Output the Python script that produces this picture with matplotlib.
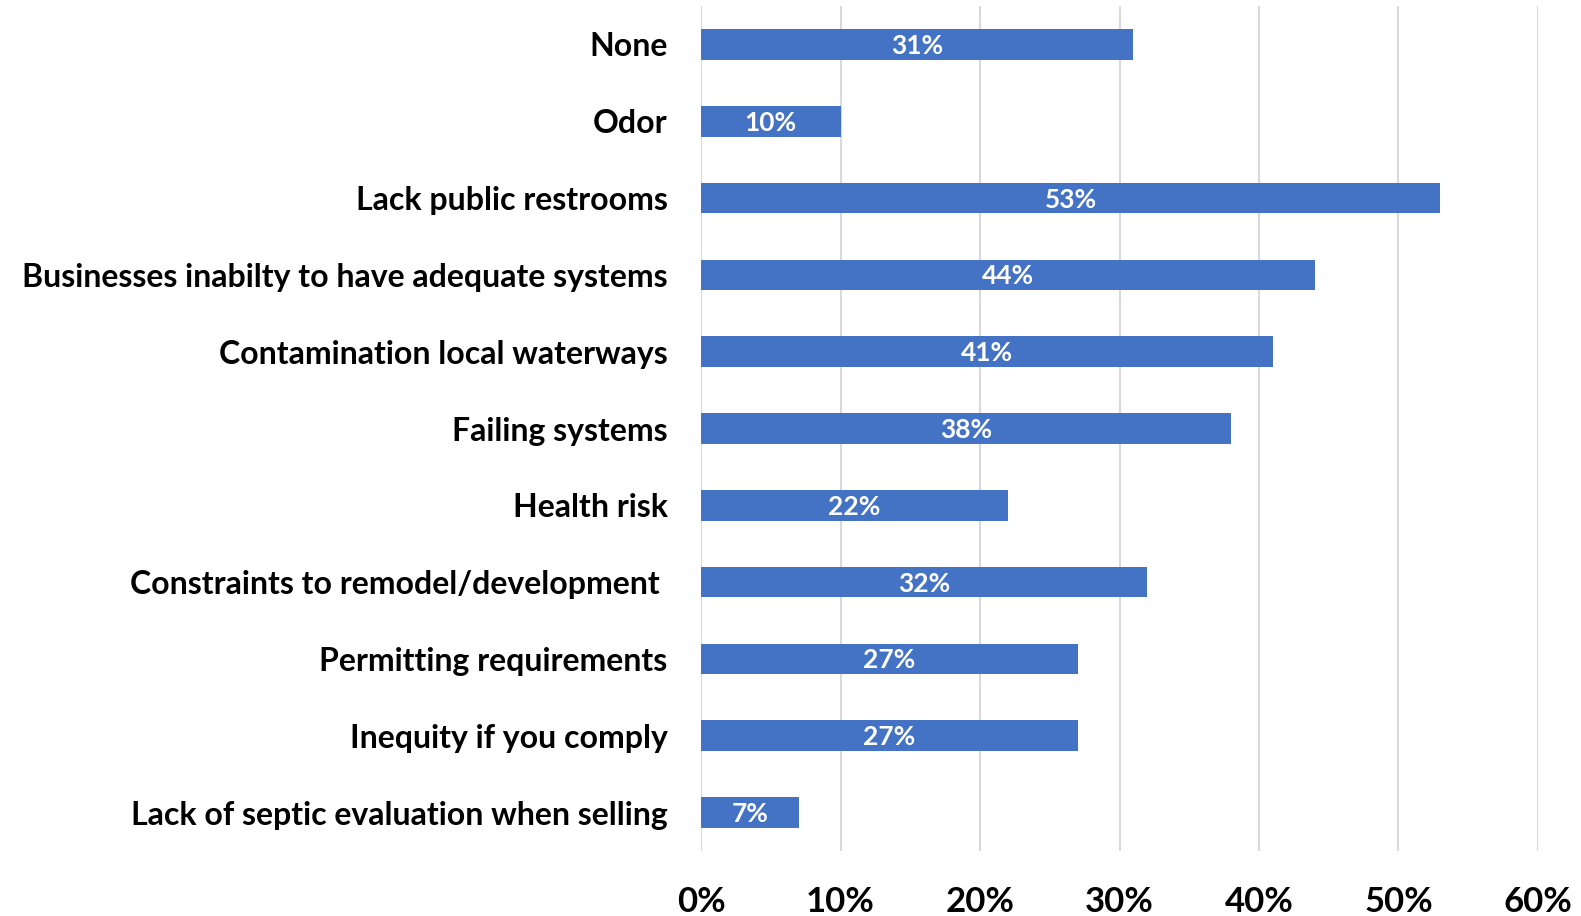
import matplotlib
matplotlib.use("Agg")
import matplotlib.pyplot as plt
from matplotlib.ticker import PercentFormatter

categories = [
    "None",
    "Odor",
    "Lack public restrooms",
    "Businesses inabilty to have adequate systems",
    "Contamination local waterways",
    "Failing systems",
    "Health risk",
    "Constraints to remodel/development ",
    "Permitting requirements",
    "Inequity if you comply",
    "Lack of septic evaluation when selling",
]
values = [31, 10, 53, 44, 41, 38, 22, 32, 27, 27, 7]
x_ticks = [0, 10, 20, 30, 40, 50, 60]

plt.rcParams['font.family'] = ['Lato', 'DejaVu Sans']

fig = plt.figure(figsize=(15.81, 9.16), dpi=100)
ax = fig.add_axes([0.4434, 0.071, 0.5294, 0.9224])

ypos = list(range(len(categories)))
bars = ax.barh(ypos, values, height=0.4, color='#4472C4', zorder=3)

for bar, v in zip(bars, values):
    ax.text(v / 2, bar.get_y() + bar.get_height() / 2 + 0.02, f"{v}%",
            ha='center', va='center', color='white', fontsize=19,
            fontweight='bold', zorder=4)

ax.set_yticks(ypos)
ax.set_yticklabels(categories, fontsize=23, fontweight='bold')
ax.set_ylim(len(categories) - 0.5, -0.5)

ax.set_xlim(0, 60)
ax.set_xticks(x_ticks)
ax.xaxis.set_major_formatter(PercentFormatter(decimals=0))
for lbl in ax.get_xticklabels():
    lbl.set_fontweight('bold')
    lbl.set_fontsize(25)

ax.tick_params(axis='y', length=0, pad=24)
ax.tick_params(axis='x', length=0, pad=25)
ax.grid(axis='x', color='#D9D9D9', linewidth=1.5, zorder=0)
for s in ax.spines.values():
    s.set_visible(False)

plt.savefig('out.png', dpi=100, facecolor='white')
